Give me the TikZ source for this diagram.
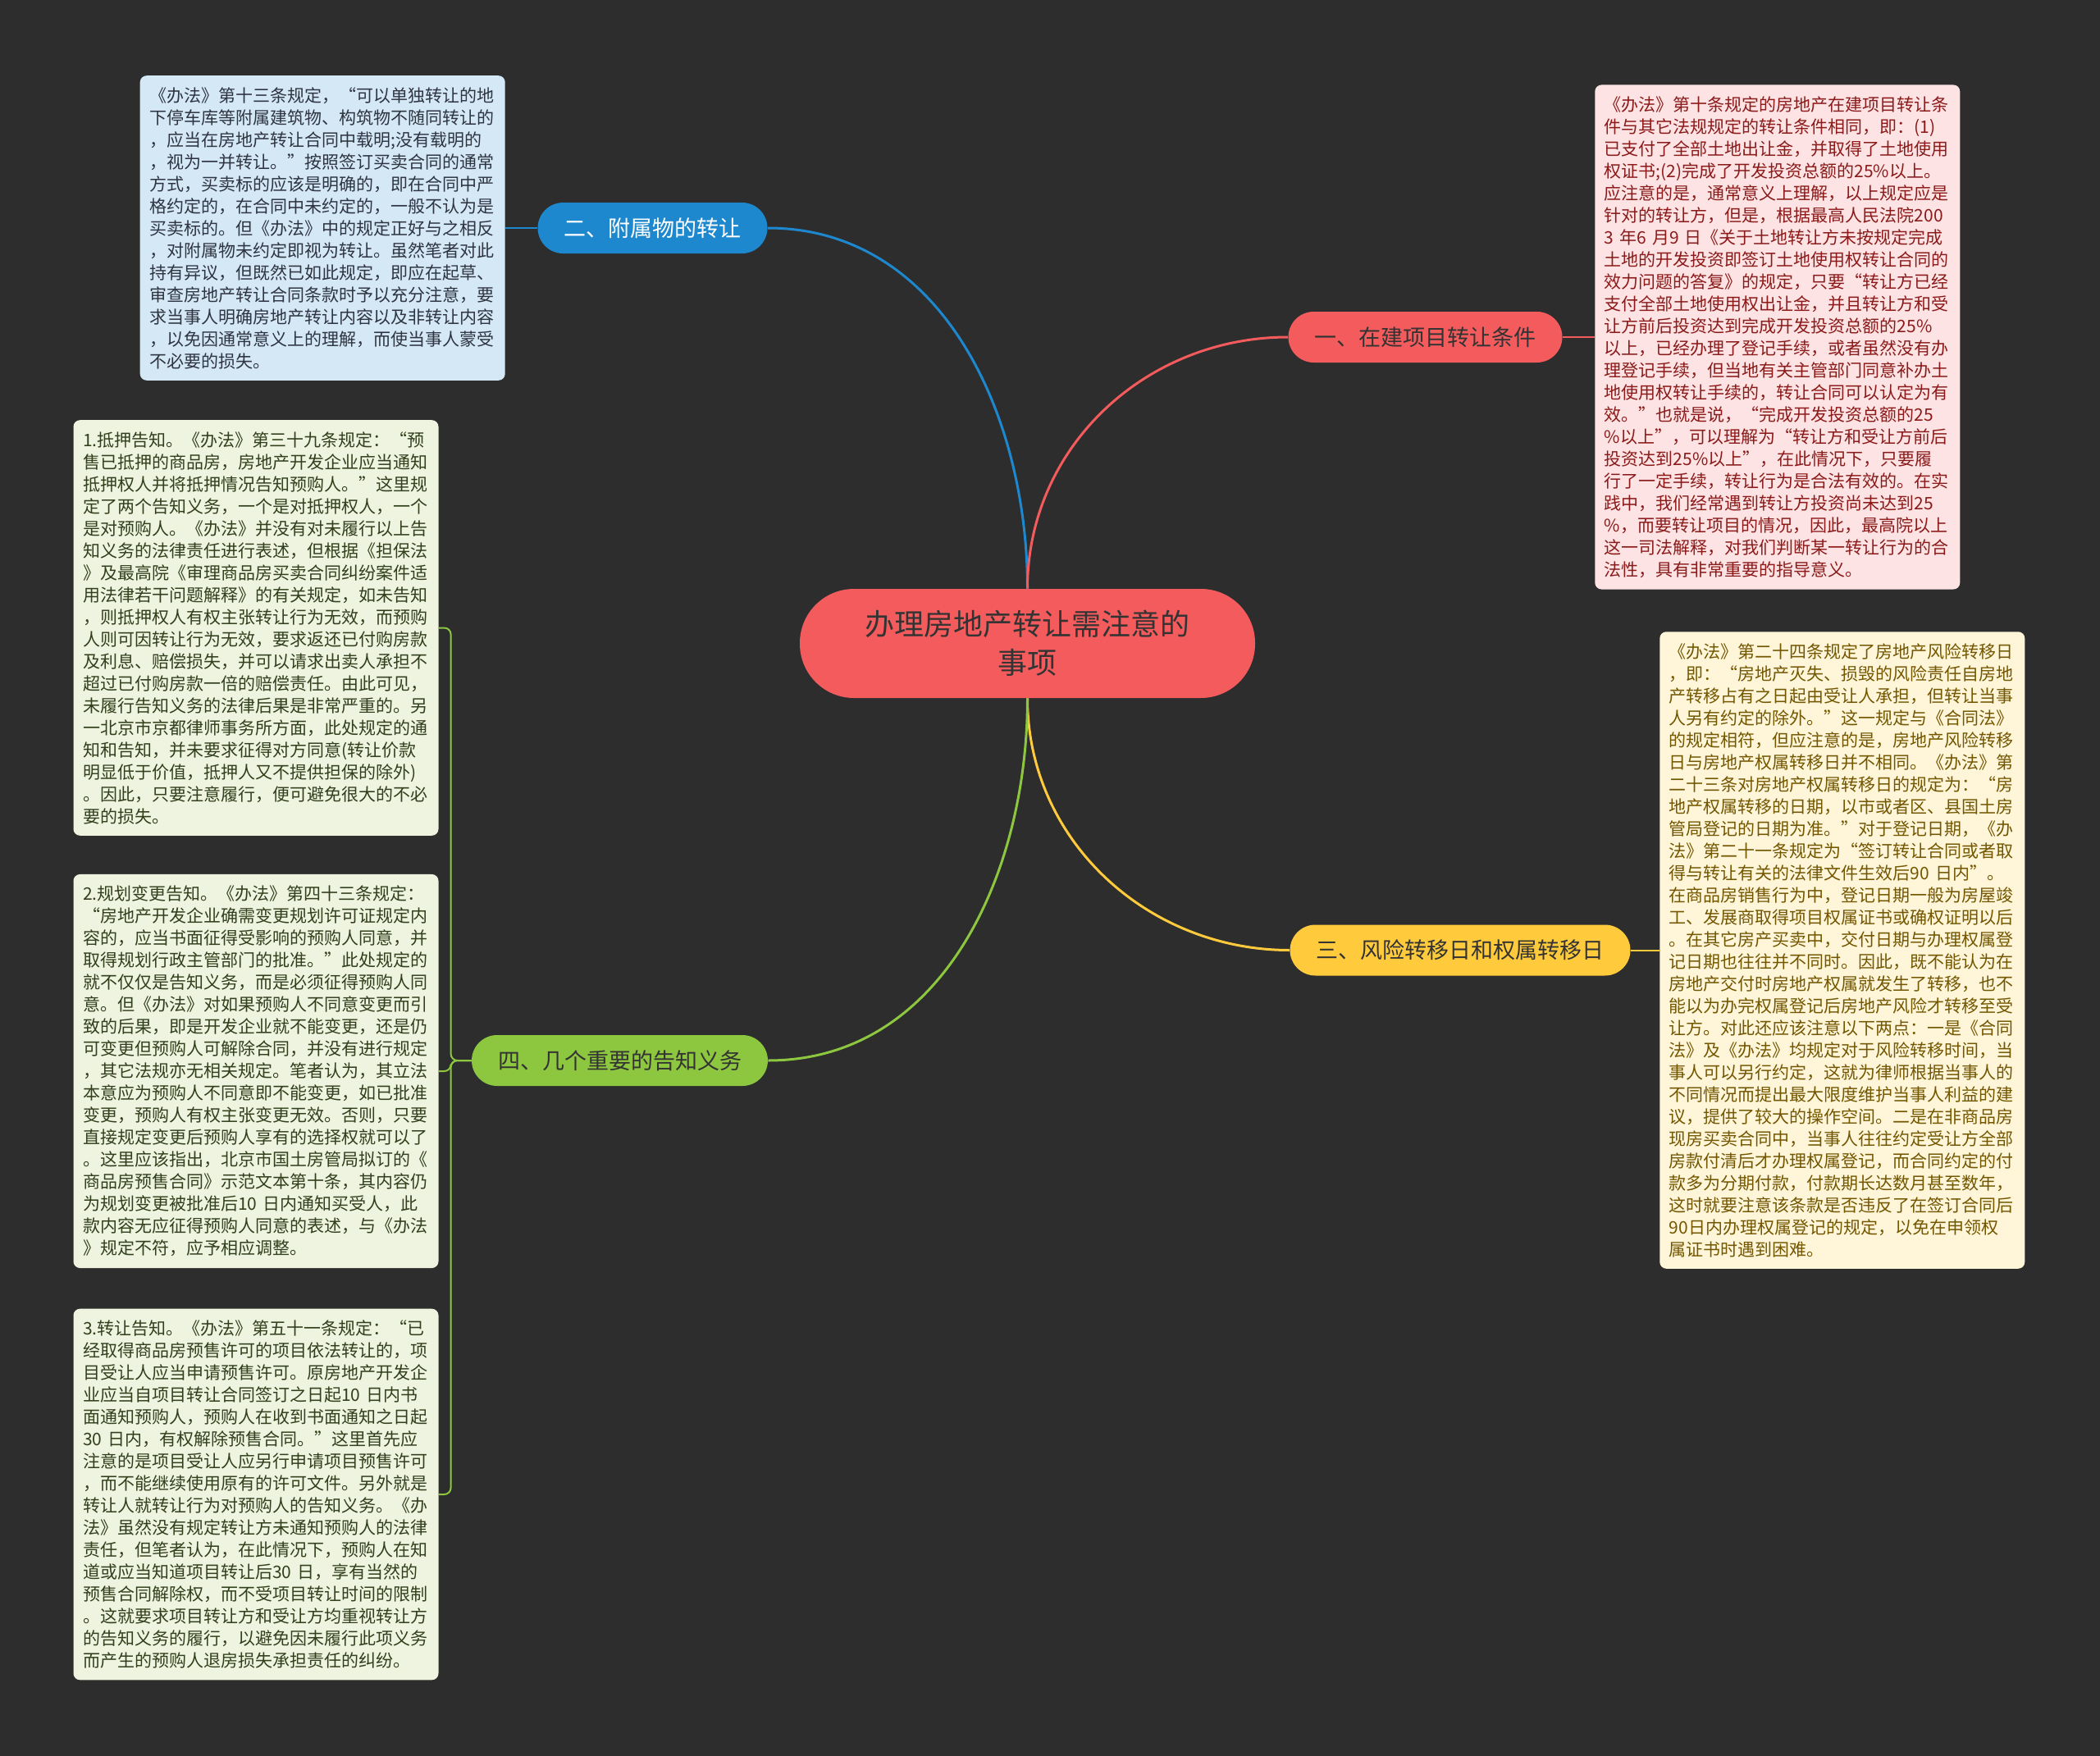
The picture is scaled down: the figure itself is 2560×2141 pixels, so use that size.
\documentclass[tikz,border=0pt]{standalone}
\usepackage{fontspec}
\setmainfont{Noto Sans CJK SC}
\usetikzlibrary{positioning}

\definecolor{bgdark}{HTML}{2D2D2D}
\definecolor{rootred}{HTML}{F45B5D}
\definecolor{brblue}{HTML}{1E88CF}
\definecolor{brred}{HTML}{F45B5D}
\definecolor{bryellow}{HTML}{FFCB3C}
\definecolor{brgreen}{HTML}{8DC63F}
\definecolor{lfblue}{HTML}{D5E8F6}
\definecolor{lfpink}{HTML}{FDE3E3}
\definecolor{lfgreen}{HTML}{EEF4DF}
\definecolor{lfcream}{HTML}{FFF6DA}
\definecolor{txblue}{HTML}{2E3440}
\definecolor{txpink}{HTML}{8B1A1A}
\definecolor{txgreen}{HTML}{323F1C}
\definecolor{txcream}{HTML}{735600}

\tikzset{
  leaf/.style={rounded corners=4pt, text width=211pt, inner xsep=5.75pt, inner ysep=7pt,
    align=left, font=\fontsize{10.5}{13.5}\selectfont},
  branch/.style={rounded corners=15.5pt, minimum height=31pt, inner xsep=16pt,
    font=\fontsize{13.5}{16}\selectfont},
  link/.style={line width=1.5pt},
}

\begin{document}
\begin{tikzpicture}[x=0.5pt, y=-0.5pt]
  \fill[bgdark] (0,0) rectangle (2560,2141);
  \useasboundingbox (0,0) rectangle (2560,2141);

  \node[fill=rootred, text=black!80, rounded corners=33pt, minimum height=66.5pt, text width=199pt,
    inner xsep=39.25pt, align=center, font=\fontsize{18}{23.5}\selectfont] (root) at (1252.5,784.5)
    {办理房地产转让需注意的\\事项};

  \node[branch, fill=brblue, text=white] (b2) at (795.5,278) {二、附属物的转让};
  \node[branch, fill=brred, text=black!80] (b1) at (1737.5,411) {一、在建项目转让条件};
  \node[branch, fill=bryellow, text=black!80] (b3) at (1780,1158.5) {三、风险转移日和权属转移日};
  \node[branch, fill=brgreen, text=black!80] (b4) at (755.5,1293) {四、几个重要的告知义务};

  \draw[link, brblue] (root.north) to[out=90, in=0] (b2.east);
  \draw[link, brred] (root.north) to[out=90, in=180] (b1.west);
  \draw[link, bryellow] (root.south) to[out=-90, in=180] (b3.west);
  \draw[link, brgreen] (root.south) to[out=-90, in=0] (b4.east);

  \node[leaf, fill=lfblue, text=txblue, left=19.5pt of b2] (l2) {%
《办法》第十三条规定，“可以单独转让的地\\
下停车库等附属建筑物、构筑物不随同转让的\\
，应当在房地产转让合同中载明;没有载明的\\
，视为一并转让。”按照签订买卖合同的通常\\
方式，买卖标的应该是明确的，即在合同中严\\
格约定的，在合同中未约定的，一般不认为是\\
买卖标的。但《办法》中的规定正好与之相反\\
，对附属物未约定即视为转让。虽然笔者对此\\
持有异议，但既然已如此规定，即应在起草、\\
审查房地产转让合同条款时予以充分注意，要\\
求当事人明确房地产转让内容以及非转让内容\\
，以免因通常意义上的理解，而使当事人蒙受\\
不必要的损失。};

  \node[leaf, fill=lfpink, text=txpink, right=19.5pt of b1] (l1) {%
《办法》第十条规定的房地产在建项目转让条\\
件与其它法规规定的转让条件相同，即：(1)\\
已支付了全部土地出让金，并取得了土地使用\\
权证书;(2)完成了开发投资总额的25\%以上。\\
应注意的是，通常意义上理解，以上规定应是\\
针对的转让方，但是，根据最高人民法院200\\
3~年6~月9~日《关于土地转让方未按规定完成\\
土地的开发投资即签订土地使用权转让合同的\\
效力问题的答复》的规定，只要“转让方已经\\
支付全部土地使用权出让金，并且转让方和受\\
让方前后投资达到完成开发投资总额的25\%\\
以上，已经办理了登记手续，或者虽然没有办\\
理登记手续，但当地有关主管部门同意补办土\\
地使用权转让手续的，转让合同可以认定为有\\
效。”也就是说，“完成开发投资总额的25\\
\%以上”，可以理解为“转让方和受让方前后\\
投资达到25\%以上”，在此情况下，只要履\\
行了一定手续，转让行为是合法有效的。在实\\
践中，我们经常遇到转让方投资尚未达到25\\
\%，而要转让项目的情况，因此，最高院以上\\
这一司法解释，对我们判断某一转让行为的合\\
法性，具有非常重要的指导意义。};

  \node[leaf, fill=lfcream, text=txcream, right=17.5pt of b3] (l3) {%
《办法》第二十四条规定了房地产风险转移日\\
，即：“房地产灭失、损毁的风险责任自房地\\
产转移占有之日起由受让人承担，但转让当事\\
人另有约定的除外。”这一规定与《合同法》\\
的规定相符，但应注意的是，房地产风险转移\\
日与房地产权属转移日并不相同。《办法》第\\
二十三条对房地产权属转移日的规定为：“房\\
地产权属转移的日期，以市或者区、县国土房\\
管局登记的日期为准。”对于登记日期，《办\\
法》第二十一条规定为“签订转让合同或者取\\
得与转让有关的法律文件生效后90~日内”。\\
在商品房销售行为中，登记日期一般为房屋竣\\
工、发展商取得项目权属证书或确权证明以后\\
。在其它房产买卖中，交付日期与办理权属登\\
记日期也往往并不同时。因此，既不能认为在\\
房地产交付时房地产权属就发生了转移，也不\\
能以为办完权属登记后房地产风险才转移至受\\
让方。对此还应该注意以下两点：一是《合同\\
法》及《办法》均规定对于风险转移时间，当\\
事人可以另行约定，这就为律师根据当事人的\\
不同情况而提出最大限度维护当事人利益的建\\
议，提供了较大的操作空间。二是在非商品房\\
现房买卖合同中，当事人往往约定受让方全部\\
房款付清后才办理权属登记，而合同约定的付\\
款多为分期付款，付款期长达数月甚至数年，\\
这时就要注意该条款是否违反了在签订合同后\\
90日内办理权属登记的规定，以免在申领权\\
属证书时遇到困难。};

  \node[leaf, fill=lfgreen, text=txgreen] (g1) at (312,765.5) {%
1.抵押告知。《办法》第三十九条规定：“预\\
售已抵押的商品房，房地产开发企业应当通知\\
抵押权人并将抵押情况告知预购人。”这里规\\
定了两个告知义务，一个是对抵押权人，一个\\
是对预购人。《办法》并没有对未履行以上告\\
知义务的法律责任进行表述，但根据《担保法\\
》及最高院《审理商品房买卖合同纠纷案件适\\
用法律若干问题解释》的有关规定，如未告知\\
，则抵押权人有权主张转让行为无效，而预购\\
人则可因转让行为无效，要求返还已付购房款\\
及利息、赔偿损失，并可以请求出卖人承担不\\
超过已付购房款一倍的赔偿责任。由此可见，\\
未履行告知义务的法律后果是非常严重的。另\\
一北京市京都律师事务所方面，此处规定的通\\
知和告知，并未要求征得对方同意(转让价款\\
明显低于价值，抵押人又不提供担保的除外)\\
。因此，只要注意履行，便可避免很大的不必\\
要的损失。};

  \node[leaf, fill=lfgreen, text=txgreen] (g2) at (312,1306) {%
2.规划变更告知。《办法》第四十三条规定：\\
“房地产开发企业确需变更规划许可证规定内\\
容的，应当书面征得受影响的预购人同意，并\\
取得规划行政主管部门的批准。”此处规定的\\
就不仅仅是告知义务，而是必须征得预购人同\\
意。但《办法》对如果预购人不同意变更而引\\
致的后果，即是开发企业就不能变更，还是仍\\
可变更但预购人可解除合同，并没有进行规定\\
，其它法规亦无相关规定。笔者认为，其立法\\
本意应为预购人不同意即不能变更，如已批准\\
变更，预购人有权主张变更无效。否则，只要\\
直接规定变更后预购人享有的选择权就可以了\\
。这里应该指出，北京市国土房管局拟订的《\\
商品房预售合同》示范文本第十条，其内容仍\\
为规划变更被批准后10~日内通知买受人，此\\
款内容无应征得预购人同意的表述，与《办法\\
》规定不符，应予相应调整。};

  \node[leaf, fill=lfgreen, text=txgreen] (g3) at (312,1822) {%
3.转让告知。《办法》第五十一条规定：“已\\
经取得商品房预售许可的项目依法转让的，项\\
目受让人应当申请预售许可。原房地产开发企\\
业应当自项目转让合同签订之日起10~日内书\\
面通知预购人，预购人在收到书面通知之日起\\
30~日内，有权解除预售合同。”这里首先应\\
注意的是项目受让人应另行申请项目预售许可\\
，而不能继续使用原有的许可文件。另外就是\\
转让人就转让行为对预购人的告知义务。《办\\
法》虽然没有规定转让方未通知预购人的法律\\
责任，但笔者认为，在此情况下，预购人在知\\
道或应当知道项目转让后30~日，享有当然的\\
预售合同解除权，而不受项目转让时间的限制\\
。这就要求项目转让方和受让方均重视转让方\\
的告知义务的履行，以避免因未履行此项义务\\
而产生的预购人退房损失承担责任的纠纷。};

  \draw[line width=1pt, brblue] (l2.east) -- (b2.west);
  \draw[line width=1pt, brred] (b1.east) -- (l1.west);
  \draw[line width=1pt, bryellow] (b3.east) -- (l3.west);
  \foreach \g in {g1,g2,g3}
    \draw[line width=1pt, brgreen, rounded corners=4pt] (b4.west) -- ++(-25,0) |- (\g.east);
\end{tikzpicture}
\end{document}
